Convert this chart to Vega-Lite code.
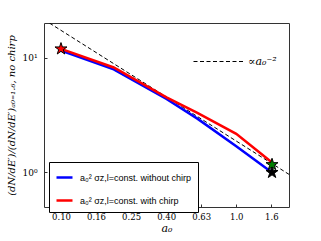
{
  "$schema": "https://vega.github.io/schema/vega-lite/v6.json",
  "width": 245,
  "height": 184,
  "autosize": {"type": "none"},
  "padding": {"left": 44, "top": 23, "right": 32, "bottom": 34},
  "background": "white",
  "config": {
    "view": {"stroke": "#333333", "strokeWidth": 1},
    "axis": {"domain": false, "grid": false, "tickColor": "#333333", "labelColor": "black", "titleColor": "black"}
  },
  "data": {
    "values": [
      {"kind": "dash", "a0": 0.08, "r": 21.4, "series": "∝a₀⁻²"},
      {"kind": "dash", "a0": 2.0, "r": 0.962, "series": "∝a₀⁻²"},
      {"kind": "curve", "a0": 0.1, "r": 11.5, "series": "a₀² σz,l=const. without chirp"},
      {"kind": "curve", "a0": 0.2, "r": 7.9, "series": "a₀² σz,l=const. without chirp"},
      {"kind": "curve", "a0": 0.4, "r": 4.36, "series": "a₀² σz,l=const. without chirp"},
      {"kind": "curve", "a0": 0.6, "r": 2.94, "series": "a₀² σz,l=const. without chirp"},
      {"kind": "curve", "a0": 1.0, "r": 1.69, "series": "a₀² σz,l=const. without chirp"},
      {"kind": "curve", "a0": 1.6, "r": 1.0, "series": "a₀² σz,l=const. without chirp"},
      {"kind": "curve", "a0": 0.1, "r": 11.9, "series": "a₀² σz,l=const. with chirp"},
      {"kind": "curve", "a0": 0.2, "r": 8.2, "series": "a₀² σz,l=const. with chirp"},
      {"kind": "curve", "a0": 0.4, "r": 4.5, "series": "a₀² σz,l=const. with chirp"},
      {"kind": "curve", "a0": 0.6, "r": 3.3, "series": "a₀² σz,l=const. with chirp"},
      {"kind": "curve", "a0": 1.0, "r": 2.17, "series": "a₀² σz,l=const. with chirp"},
      {"kind": "curve", "a0": 1.6, "r": 1.22, "series": "a₀² σz,l=const. with chirp"},
      {"kind": "star", "a0": 0.1, "r": 11.9, "series": "red"},
      {"kind": "star", "a0": 1.6, "r": 1.0, "series": "black"},
      {"kind": "star", "a0": 1.6, "r": 1.17, "series": "green"}
    ]
  },
  "encoding": {
    "x": {
      "field": "a0", "type": "quantitative",
      "scale": {"type": "log", "domain": [0.08, 2], "nice": false},
      "axis": {
        "orient": "bottom",
        "values": [0.1, 0.1585, 0.2512, 0.3981, 0.631, 1.0, 1.585],
        "labelExpr": "datum.value < 1 ? format(datum.value, '.2f') : format(datum.value, '.1f')",
        "tickSize": 3,
        "offset": -3,
        "labelPadding": 5,
        "labelFont": "DejaVu Serif",
        "labelFontSize": 8.5,
        "title": "a₀",
        "titleFont": "DejaVu Serif",
        "titleFontStyle": "italic",
        "titleFontWeight": "normal",
        "titleFontSize": 11,
        "titlePadding": 2
      }
    },
    "y": {
      "field": "r", "type": "quantitative",
      "scale": {"type": "log", "domain": [0.5, 20], "nice": false},
      "axis": {
        "orient": "left",
        "values": [1, 10],
        "labelExpr": "datum.value == 1 ? '10⁰' : '10¹'",
        "tickSize": 3,
        "offset": -3,
        "labelPadding": 7,
        "labelFont": "DejaVu Serif",
        "labelFontSize": 9,
        "title": "(dN/dE′)/(dN/dE′)ₐ₀₌₁.₆, no chirp",
        "titleFont": "DejaVu Serif",
        "titleFontStyle": "italic",
        "titleFontWeight": "normal",
        "titleFontSize": 10,
        "titlePadding": 5
      }
    }
  },
  "layer": [
    {
      "transform": [{"filter": "datum.kind == 'dash'"}],
      "mark": {"type": "line", "clip": true, "color": "black", "strokeWidth": 1},
      "encoding": {
        "strokeDash": {
          "field": "series", "type": "nominal",
          "scale": {"range": [[4, 2.5]]},
          "legend": {
            "orient": "none",
            "legendX": 149,
            "legendY": 13,
            "title": null,
            "symbolType": "stroke",
            "symbolSize": 2500,
            "symbolStrokeColor": "black",
            "symbolStrokeWidth": 1,
            "labelFont": "DejaVu Serif",
            "labelFontStyle": "italic",
            "labelFontSize": 11,
            "labelOffset": 4,
            "padding": 0
          }
        }
      }
    },
    {
      "transform": [{"filter": "datum.kind == 'curve'"}],
      "mark": {"type": "line", "strokeWidth": 2.5},
      "encoding": {
        "color": {
          "field": "series", "type": "nominal",
          "scale": {
            "domain": ["a₀² σz,l=const. without chirp", "a₀² σz,l=const. with chirp"],
            "range": ["#0000ff", "#ff0000"]
          },
          "legend": {
            "orient": "none",
            "legendX": 5,
            "legendY": 139,
            "title": null,
            "symbolType": "stroke",
            "symbolSize": 256,
            "symbolStrokeWidth": 2.5,
            "labelFont": "Liberation Sans",
            "labelFontSize": 9,
            "labelOffset": 6,
            "rowPadding": 8,
            "padding": 6,
            "strokeColor": "black",
            "fillColor": "white"
          }
        }
      }
    },
    {
      "transform": [{"filter": "datum.kind == 'star'"}],
      "mark": {
        "type": "point",
        "shape": "M0,-1L0.2245,-0.309L0.951,-0.309L0.3633,0.118L0.588,0.809L0,0.382L-0.588,0.809L-0.3633,0.118L-0.951,-0.309L-0.2245,-0.309Z",
        "filled": true, "size": 160, "stroke": "black", "strokeWidth": 1, "opacity": 1
      },
      "encoding": {
        "fill": {
          "field": "series", "type": "nominal",
          "scale": {"domain": ["red", "black", "green"], "range": ["#ff0000", "#000000", "#008000"]},
          "legend": null
        }
      }
    }
  ]
}
